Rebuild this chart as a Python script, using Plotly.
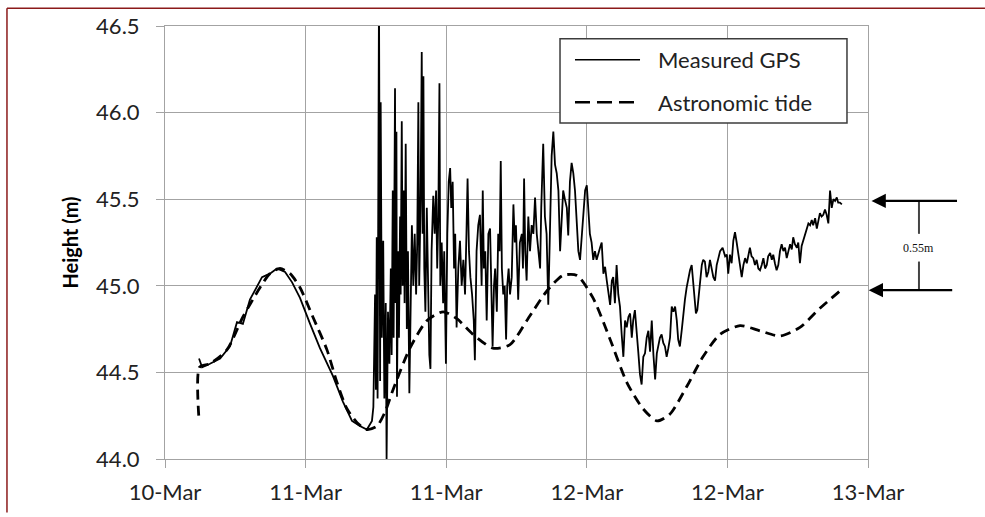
import plotly.graph_objects as go

# ---- axis labels ----
date_tick_vals = [10.5, 11.0, 11.5, 12.0, 12.5, 13.0]
date_tick_text = ["10-Mar", "11-Mar", "11-Mar", "12-Mar", "12-Mar", "13-Mar"]
height_ticks = [44.0, 44.5, 45.0, 45.5, 46.0, 46.5]

# ---- Astronomic tide (time in decimal days of March, height in m) ----
tide_time = [10.620, 10.623, 10.660, 10.720, 10.777, 10.838, 10.873, 10.909, 10.945, 10.980,
             11.026, 11.076, 11.112, 11.147, 11.183, 11.218, 11.254, 11.282, 11.311, 11.371,
             11.432, 11.489, 11.538, 11.595, 11.666, 11.727, 11.787, 11.858, 11.915, 11.965,
             12.022, 12.083, 12.143, 12.200, 12.250, 12.296, 12.356, 12.413, 12.474, 12.545,
             12.616, 12.687, 12.758, 12.829, 12.900]
tide_height = [44.25, 44.53, 44.55, 44.63, 44.82, 44.99, 45.07, 45.10, 45.07, 44.99,
               44.82, 44.63, 44.44, 44.29, 44.21, 44.17, 44.19, 44.27, 44.40, 44.64,
               44.80, 44.85, 44.81, 44.72, 44.64, 44.66, 44.80, 44.97, 45.06, 45.06,
               44.93, 44.69, 44.44, 44.29, 44.22, 44.26, 44.42, 44.59, 44.72, 44.77,
               44.74, 44.71, 44.76, 44.87, 44.97]

# ---- Measured GPS ----
gps_time = [
    10.621, 10.632, 10.660, 10.696, 10.731, 10.756, 10.777, 10.802, 10.845, 10.873,
    10.898, 10.927, 10.952, 10.980, 11.016, 11.051, 11.097, 11.133, 11.165, 11.193,
    11.218, 11.236, 11.241, 11.247, 11.250, 11.253, 11.256, 11.261, 11.265, 11.267,
    11.271, 11.276, 11.280, 11.285, 11.288, 11.293, 11.298, 11.303, 11.306, 11.310,
    11.313, 11.318, 11.320, 11.323, 11.325, 11.329, 11.332, 11.336, 11.338, 11.342,
    11.345, 11.349, 11.352, 11.356, 11.360, 11.364, 11.369, 11.374, 11.378, 11.383,
    11.388, 11.393, 11.397, 11.401, 11.404, 11.409, 11.413, 11.416, 11.419, 11.422,
    11.426, 11.431, 11.435, 11.440, 11.444, 11.448, 11.454, 11.459, 11.464, 11.468,
    11.472, 11.476, 11.479, 11.484, 11.489, 11.493, 11.499, 11.504, 11.509, 11.514,
    11.518, 11.523, 11.528, 11.532, 11.537, 11.543, 11.549, 11.555, 11.561, 11.567,
    11.572, 11.576, 11.581, 11.586, 11.592, 11.598, 11.602, 11.608, 11.614, 11.620,
    11.626, 11.630, 11.634, 11.639, 11.644, 11.650, 11.656, 11.660, 11.665, 11.670,
    11.674, 11.680, 11.685, 11.690, 11.694, 11.698, 11.703, 11.708, 11.713, 11.717,
    11.722, 11.727, 11.733, 11.739, 11.744, 11.748, 11.753, 11.756, 11.762, 11.769,
    11.773, 11.777, 11.781, 11.786, 11.792, 11.798, 11.804, 11.810, 11.816, 11.822,
    11.828, 11.834, 11.838, 11.845, 11.851, 11.857, 11.863, 11.869, 11.875, 11.881,
    11.887, 11.893, 11.899, 11.905, 11.911, 11.916, 11.922, 11.929, 11.934, 11.940,
    11.946, 11.952, 11.958, 11.964, 11.970, 11.976, 11.982, 11.988, 11.994, 12.000,
    12.005, 12.011, 12.017, 12.023, 12.029, 12.035, 12.047, 12.053, 12.059, 12.065,
    12.071, 12.076, 12.083, 12.089, 12.094, 12.100, 12.106, 12.112, 12.118, 12.124,
    12.130, 12.136, 12.142, 12.148, 12.154, 12.160, 12.165, 12.171, 12.178, 12.183,
    12.189, 12.195, 12.201, 12.207, 12.213, 12.219, 12.225, 12.231, 12.237, 12.243,
    12.249, 12.254, 12.260, 12.266, 12.272, 12.278, 12.284, 12.290, 12.296, 12.302,
    12.308, 12.314, 12.320, 12.325, 12.331, 12.338, 12.343, 12.349, 12.355, 12.361,
    12.367, 12.373, 12.379, 12.385, 12.388, 12.393, 12.397, 12.403, 12.409, 12.414,
    12.420, 12.426, 12.432, 12.438, 12.444, 12.450, 12.456, 12.462, 12.468, 12.474,
    12.483, 12.492, 12.498, 12.503, 12.509, 12.515, 12.521, 12.527, 12.533, 12.539,
    12.545, 12.551, 12.557, 12.563, 12.569, 12.574, 12.580, 12.586, 12.592, 12.598,
    12.604, 12.610, 12.616, 12.622, 12.628, 12.634, 12.640, 12.645, 12.652, 12.658,
    12.663, 12.669, 12.675, 12.681, 12.687, 12.693, 12.699, 12.705, 12.711, 12.717,
    12.723, 12.729, 12.734, 12.740, 12.747, 12.752, 12.758, 12.764, 12.770, 12.776,
    12.782, 12.788, 12.794, 12.800, 12.805, 12.812, 12.818, 12.823, 12.829, 12.835,
    12.841, 12.847, 12.853, 12.859, 12.865, 12.871, 12.877, 12.883, 12.889, 12.894,
    12.900, 12.907]
gps_height = [
    44.58, 44.53, 44.55, 44.58, 44.65, 44.79, 44.78, 44.92, 45.05, 45.07,
    45.10, 45.08, 45.02, 44.93, 44.78, 44.64, 44.48, 44.33, 44.22, 44.19,
    44.17, 44.22, 44.30, 44.95, 44.40, 45.28, 44.35, 46.70, 44.45, 46.06,
    44.70, 45.26, 44.35, 44.90, 44.00, 44.85, 44.55, 45.10, 44.60, 45.55,
    44.70, 46.14, 44.90, 45.89, 44.36, 45.20, 44.70, 45.40, 44.95, 45.95,
    45.00, 45.55, 44.90, 45.82, 44.75, 45.20, 44.38, 45.00, 45.35, 45.00,
    45.30, 44.95, 45.25, 46.06, 45.00, 45.50, 46.35, 45.30, 46.21, 45.10,
    44.85, 45.45, 45.00, 44.60, 44.52, 45.20, 45.52, 45.30, 45.55, 45.10,
    45.40, 46.17, 45.00, 45.25, 44.90, 45.20, 44.55, 45.30, 45.60, 45.68,
    45.45, 45.60, 45.10, 45.30, 44.76, 45.10, 45.26, 45.00, 45.15, 44.95,
    45.30, 45.62, 45.20, 45.05, 44.95, 44.80, 44.57, 45.20, 45.35, 45.41,
    45.00, 45.55, 45.10, 45.20, 44.80, 45.30, 45.33, 45.00, 44.65, 45.00,
    45.10, 44.85, 45.30, 45.20, 45.72, 45.10, 44.95, 45.00, 44.69, 45.00,
    45.10, 44.95, 45.05, 45.47, 45.25, 45.35, 45.10, 44.92, 45.25, 45.30,
    45.10, 45.62, 45.20, 45.03, 45.40, 45.20, 45.35, 45.30, 45.51, 45.30,
    45.20, 45.10, 45.45, 45.82, 45.40, 45.30, 44.89, 45.40, 45.75, 45.89,
    45.70, 45.65, 45.55, 45.20, 45.45, 45.55, 45.50, 45.45, 45.29, 45.60,
    45.71, 45.65, 45.55, 45.40, 45.20, 45.15, 45.30, 45.40, 45.55, 45.58,
    45.45, 45.30, 45.25, 45.15, 45.20, 45.15, 45.22, 45.25, 45.07, 45.11,
    45.03, 44.98, 44.89, 45.03, 45.05, 44.90, 45.12, 44.95, 44.88, 44.72,
    44.59, 44.80, 44.76, 44.82, 44.84, 44.70, 44.80, 44.86, 44.69, 44.62,
    44.49, 44.43, 44.59, 44.61, 44.70, 44.74, 44.62, 44.80, 44.60, 44.46,
    44.61, 44.65, 44.70, 44.72, 44.67, 44.65, 44.59, 44.64, 44.70, 44.88,
    44.85, 44.88, 44.80, 44.69, 44.65, 44.75, 44.84, 44.92, 44.99, 45.05,
    45.09, 45.12, 44.99, 44.90, 44.84, 44.86, 44.92, 45.03, 45.12, 45.15,
    45.14, 45.05, 45.08, 45.15, 45.09, 45.05, 45.03, 45.12, 45.16, 45.20,
    45.22, 45.17, 45.18, 45.07, 45.18, 45.13, 45.26, 45.31, 45.25, 45.18,
    45.10, 45.05, 45.12, 45.16, 45.13, 45.18, 45.22, 45.17, 45.16, 45.12,
    45.15, 45.10, 45.09, 45.12, 45.16, 45.10, 45.12, 45.17, 45.19, 45.15,
    45.18, 45.13, 45.09, 45.12, 45.20, 45.24, 45.20, 45.22, 45.16, 45.20,
    45.24, 45.21, 45.28, 45.24, 45.22, 45.25, 45.13, 45.23, 45.26, 45.30,
    45.32, 45.36, 45.35, 45.38, 45.35, 45.39, 45.33, 45.38, 45.42, 45.40,
    45.41, 45.44, 45.41, 45.36, 45.55, 45.45, 45.50, 45.49, 45.51, 45.48,
    45.48, 45.47]

# annotation values (m)
upper_level = 45.49
lower_level = 44.975
offset_label = "0.55m"

FONT = "Lato, Carlito, Calibri, sans-serif"
GRID = "#a3a3a3"

fig = go.Figure()
fig.add_trace(go.Scatter(x=gps_time, y=gps_height, mode="lines", name="Measured GPS",
                         line=dict(color="black", width=1.8)))
fig.add_trace(go.Scatter(x=tide_time, y=tide_height, mode="lines", name="Astronomic tide",
                         line=dict(color="black", width=2.8, dash="10px,6px",
                                   shape="spline", smoothing=0.7)))

fig.update_layout(
    width=985, height=517,
    margin=dict(l=165, r=117, t=26, b=54),
    paper_bgcolor="white", plot_bgcolor="white",
    showlegend=False,
    font=dict(family=FONT, color="#222222"),
)
fig.update_xaxes(
    range=[10.5, 13.0], tickmode="array", tickvals=date_tick_vals, ticktext=date_tick_text,
    showgrid=True, gridcolor=GRID, gridwidth=1, zeroline=False,
    showline=True, linecolor=GRID, linewidth=1, mirror=True,
    ticks="outside", ticklen=8, tickcolor=GRID, tickwidth=1,
    tickfont=dict(size=22, family=FONT, color="#222222"), ticklabelstandoff=6,
)
fig.update_yaxes(
    range=[44.0, 46.5], tickmode="array", tickvals=height_ticks, tickformat=".1f",
    showgrid=True, gridcolor=GRID, gridwidth=1, zeroline=False,
    showline=True, linecolor=GRID, linewidth=1, mirror=True,
    ticks="outside", ticklen=8, tickcolor=GRID, tickwidth=1,
    tickfont=dict(size=22, family=FONT, color="#222222"), ticklabelstandoff=12,
    title=dict(text="<b>Height (m)</b>", font=dict(size=20, family=FONT, color="black"),
               standoff=12),
)

# legend drawn as a framed box
leg_x0, leg_x1, leg_y0, leg_y1 = 0.5619, 0.9701, 0.7757, 0.9703
shapes = [
    dict(type="rect", xref="paper", yref="paper", x0=leg_x0, x1=leg_x1, y0=leg_y0, y1=leg_y1,
         line=dict(color="#3c3c3c", width=1.5), fillcolor="white", layer="above"),
    dict(type="line", xref="paper", yref="paper", x0=0.5832, x1=0.6757, y0=0.9222, y1=0.9222,
         line=dict(color="black", width=1.5), layer="above"),
    dict(type="line", xref="paper", yref="paper", x0=0.5832, x1=0.6757, y0=0.8238, y1=0.8238,
         line=dict(color="black", width=2.5, dash="15px,7px"), layer="above"),
    # vertical marker between the two levels
    dict(type="line", xref="paper", yref="y", x0=1.0725, x1=1.0725, y0=45.30, y1=upper_level,
         line=dict(color="#444444", width=2)),
    dict(type="line", xref="paper", yref="y", x0=1.0725, x1=1.0725, y0=lower_level, y1=45.14,
         line=dict(color="#444444", width=2)),
    # page frame
    dict(type="line", xref="paper", yref="paper", x0=-0.2248, x1=1.1664, y0=1.0412, y1=1.0412,
         line=dict(color="#8b1a1a", width=1.5)),
    dict(type="line", xref="paper", yref="paper", x0=-0.2248, x1=-0.2248, y0=-0.1236, y1=1.0412,
         line=dict(color="#8b1a1a", width=1.5)),
]
fig.update_layout(shapes=shapes)

annotations = [
    dict(xref="paper", yref="paper", x=0.6984, y=0.9222, text="Measured GPS", showarrow=False,
         xanchor="left", yanchor="middle", font=dict(size=22, family=FONT, color="#222222")),
    dict(xref="paper", yref="paper", x=0.6984, y=0.8238, text="Astronomic tide", showarrow=False,
         xanchor="left", yanchor="middle", font=dict(size=22, family=FONT, color="#222222")),
    dict(xref="paper", yref="y", x=1.005, y=upper_level, text="", showarrow=True,
         ax=87, ay=0, arrowhead=2, arrowsize=1.3, arrowwidth=2.2, arrowcolor="black"),
    dict(xref="paper", yref="y", x=1.001, y=lower_level, text="", showarrow=True,
         ax=85, ay=0, arrowhead=2, arrowsize=1.3, arrowwidth=2.2, arrowcolor="black"),
    dict(xref="paper", yref="y", x=1.0725, y=45.216, text=offset_label, showarrow=False,
         xanchor="center", yanchor="middle",
         font=dict(size=12, family="Liberation Serif, serif", color="#111111")),
]
fig.update_layout(annotations=annotations)

fig.write_html("out.html")
